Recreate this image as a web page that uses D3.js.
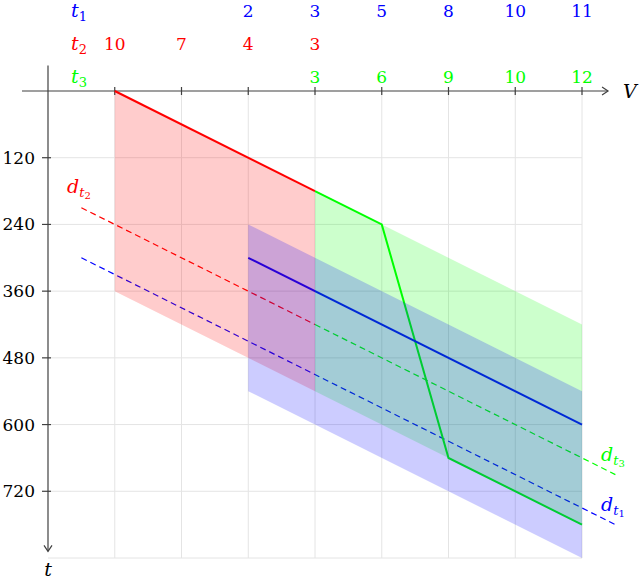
<!DOCTYPE html>
<html>
<head>
<meta charset="utf-8">
<script src="https://cdn.jsdelivr.net/npm/d3@7"></script>
<style>
    body { margin: 0; background: white; }
</style>
</head>
<body>
<svg id="chart"></svg>
<script>
const WIDTH = 640, HEIGHT = 581;
const FONT = "DejaVu Serif";

// tick values
const xTicks = [1, 2, 3, 4, 5, 6, 7, 8];
const yTicks = [120, 240, 360, 480, 600, 720];

// label rows above the plot
const t1Pos = [3, 4, 5, 6, 7, 8];
const t1Text = ["2", "3", "5", "8", "10", "11"];
const t2Pos = [1, 2, 3, 4];
const t2Text = ["10", "7", "4", "3"];
const t3Pos = [4, 5, 6, 7, 8];
const t3Text = ["3", "6", "9", "10", "12"];

// solid lines [V, t]
const redLine = [[1, 0], [4, 180]];
const greenLine = [[4, 180], [5, 240], [6, 660], [8, 780]];
const blueLine = [[3, 300], [8, 600]];

// bands [V, top, bottom]
const redBand = [[1, 0, 360], [4, 180, 540]];
const greenBand = [[4, 180, 540], [8, 420, 780]];
const blueBand = [[3, 240, 540], [8, 540, 840]];

// dashed lines
const dt2Line = [[0.5, 210], [4, 420]];
const dt3Line = [[4, 420], [8.5, 690]];
const dt1Line = [[0.5, 300], [8.5, 780]];

const RED = "#ff0000", GREEN = "#00ff00", BLUE = "#0000ff";

const x = d3.scaleLinear().domain([0, 8]).range([48, 582]);
const y = d3.scaleLinear().domain([0, 840]).range([91, 558]);

const svg = d3.select("#chart")
    .attr("width", WIDTH)
    .attr("height", HEIGHT)
    .style("font-family", FONT);

// grid
const grid = svg.append("g").attr("stroke", "#e4e4e4").attr("stroke-width", 1);
grid.selectAll("line.v")
    .data(xTicks)
    .enter()
    .append("line")
    .attr("x1", d => x(d)).attr("x2", d => x(d))
    .attr("y1", y(0)).attr("y2", y(840));
grid.selectAll("line.h")
    .data(yTicks.concat([840]))
    .enter()
    .append("line")
    .attr("x1", x(0)).attr("x2", x(8))
    .attr("y1", d => y(d)).attr("y2", d => y(d));

// axes
const axisColor = "#404040";
const axes = svg.append("g").attr("stroke", axisColor).attr("stroke-width", 1.2).attr("fill", "none");
axes.append("line")
    .attr("x1", x(-0.39)).attr("x2", x(8.39))
    .attr("y1", y(0)).attr("y2", y(0));
axes.append("path")
    .attr("d", `M${x(8.39) - 6},${y(0) - 4} L${x(8.39)},${y(0)} L${x(8.39) - 6},${y(0) + 4}`);
axes.append("line")
    .attr("x1", x(0)).attr("x2", x(0))
    .attr("y1", y(-46)).attr("y2", y(828));
axes.append("path")
    .attr("d", `M${x(0) - 4},${y(828) - 6} L${x(0)},${y(828)} L${x(0) + 4},${y(828) - 6}`);

axes.selectAll("line.xt")
    .data(xTicks)
    .enter()
    .append("line")
    .attr("x1", d => x(d)).attr("x2", d => x(d))
    .attr("y1", y(0) - 4).attr("y2", y(0) + 4);
axes.selectAll("line.yt")
    .data(yTicks)
    .enter()
    .append("line")
    .attr("x1", x(0) - 6).attr("x2", x(0) + 3)
    .attr("y1", d => y(d)).attr("y2", d => y(d));

svg.selectAll("text.ylab")
    .data(yTicks)
    .enter()
    .append("text")
    .attr("x", x(0) - 13)
    .attr("y", d => y(d) + 6)
    .attr("text-anchor", "end")
    .attr("font-size", 17)
    .text(d => d);

svg.append("text")
    .attr("x", 623).attr("y", y(0) + 7)
    .attr("font-size", 19).attr("font-style", "italic")
    .text("V");
svg.append("text")
    .attr("x", x(0)).attr("y", 576)
    .attr("text-anchor", "middle")
    .attr("font-size", 19).attr("font-style", "italic")
    .text("t");

// label rows
function rowLabel(name, sub, color, baseline) {
    const t = svg.append("text")
        .attr("x", 71).attr("y", baseline)
        .attr("fill", color)
        .attr("font-size", 19);
    t.append("tspan").attr("font-style", "italic").text(name);
    t.append("tspan").attr("font-size", 13).attr("dy", 4).text(sub);
}
function row(pos, txt, color, baseline) {
    svg.append("g").selectAll("text")
        .data(pos)
        .enter()
        .append("text")
        .attr("x", d => x(d))
        .attr("y", baseline)
        .attr("text-anchor", "middle")
        .attr("fill", color)
        .attr("font-size", 17)
        .text((d, i) => txt[i]);
}
rowLabel("t", "1", BLUE, 17);
rowLabel("t", "2", RED, 50);
rowLabel("t", "3", GREEN, 83);
row(t1Pos, t1Text, BLUE, 17);
row(t2Pos, t2Text, RED, 50);
row(t3Pos, t3Text, GREEN, 83);

// lines (under the fills)
const line = d3.line().x(d => x(d[0])).y(d => y(d[1]));
function drawLine(data, color, width, dash) {
    svg.append("path")
        .datum(data)
        .attr("d", line)
        .attr("fill", "none")
        .attr("stroke", color)
        .attr("stroke-width", width)
        .attr("stroke-dasharray", dash || null);
}
drawLine(dt2Line, RED, 1.2, "6,4");
drawLine(dt3Line, GREEN, 1.2, "6,4");
drawLine(dt1Line, BLUE, 1.2, "6,4");
drawLine(redLine, RED, 2);
drawLine(greenLine, GREEN, 2);
drawLine(blueLine, BLUE, 2);

// bands
const area = d3.area().x(d => x(d[0])).y0(d => y(d[1])).y1(d => y(d[2]));
function drawBand(data, color) {
    svg.append("path")
        .datum(data)
        .attr("d", area)
        .attr("fill", color)
        .attr("fill-opacity", 0.2);
}
drawBand(redBand, RED);
drawBand(greenBand, GREEN);
drawBand(blueBand, BLUE);

// dashed line labels
function dLabel(sub, color, lx, ly) {
    const t = svg.append("text")
        .attr("x", lx).attr("y", ly)
        .attr("fill", color)
        .attr("font-size", 19);
    t.append("tspan").attr("font-style", "italic").text("d");
    t.append("tspan").attr("font-style", "italic").attr("font-size", 13).attr("dy", 4).text("t");
    t.append("tspan").attr("font-size", 10).attr("dy", 2).text(sub);
}
dLabel("2", RED, 67, 193);
dLabel("3", GREEN, 601, 461);
dLabel("1", BLUE, 601, 511);
</script>
</body>
</html>
